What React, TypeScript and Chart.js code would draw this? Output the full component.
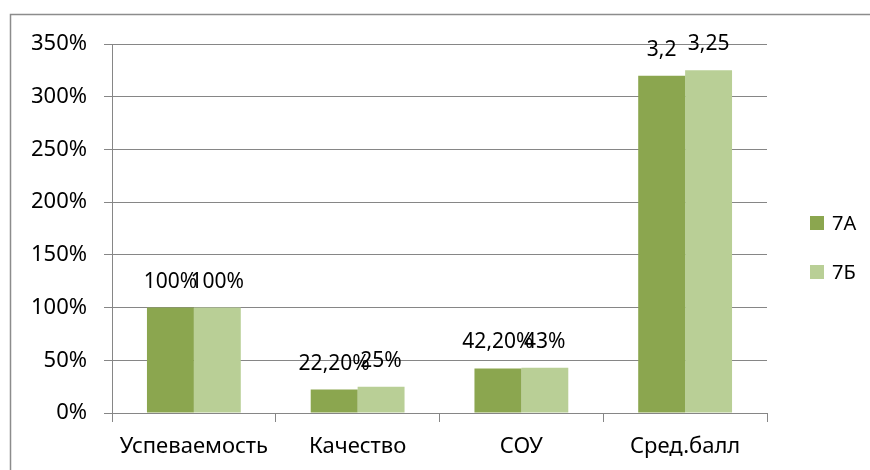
import React, { useEffect, useRef } from "react";
import { Chart, registerables } from "chart.js";

Chart.register(...registerables);

const categories = ["Успеваемость", "Качество", "СОУ", "Сред.балл"];
const seriesNames = ["7А", "7Б"];
const values7A = [1.0, 0.222, 0.422, 3.2];
const values7B = [1.0, 0.25, 0.43, 3.25];
const labels7A = ["100%", "22,20%", "42,20%", "3,2"];
const labels7B = ["100%", "25%", "43%", "3,25"];
const yMin = 0;
const yMax = 3.5;
const yStep = 0.5;

const COLOR_A = "#8BA64F";
const COLOR_B = "#B9CF96";
const GRID = "#868686";
const FONT = "'Noto Sans', sans-serif";

const framePlugin = {
  id: "frame",
  beforeDraw(chart: any) {
    const ctx = chart.ctx;
    ctx.save();
    ctx.fillStyle = "#ffffff";
    ctx.fillRect(0, 0, chart.width, chart.height);
    ctx.strokeStyle = "#8C8C8C";
    ctx.lineWidth = 1.5;
    ctx.strokeRect(10.5, 14.5, 1000, 1000);
    ctx.restore();
  },
};

const dataLabelPlugin = {
  id: "dataLabels",
  afterDatasetsDraw(chart: any) {
    const ctx = chart.ctx;
    const allLabels = [labels7A, labels7B];
    ctx.save();
    ctx.font = `21px ${FONT}`;
    ctx.fillStyle = "#000000";
    ctx.textAlign = "center";
    ctx.textBaseline = "middle";
    chart.data.datasets.forEach((ds: any, di: number) => {
      const meta = chart.getDatasetMeta(di);
      meta.data.forEach((bar: any, i: number) => {
        ctx.fillText(allLabels[di][i], bar.x, bar.y - 26);
      });
    });
    ctx.restore();
  },
};

const legendPlugin = {
  id: "customLegend",
  afterDraw(chart: any) {
    const ctx = chart.ctx;
    ctx.save();
    ctx.font = `20px ${FONT}`;
    ctx.textAlign = "left";
    ctx.textBaseline = "middle";
    chart.data.datasets.forEach((ds: any, di: number) => {
      const cy = 223 + di * 49;
      ctx.fillStyle = ds.backgroundColor;
      ctx.fillRect(810, cy - 7, 14, 14);
      ctx.fillStyle = "#000000";
      ctx.fillText(ds.label, 832, cy + 1);
    });
    ctx.restore();
  },
};

export default function App() {
  const ref = useRef<HTMLCanvasElement | null>(null);
  useEffect(() => {
    document.body.style.margin = "0";
    if (!ref.current) return;
    const chart = new Chart(ref.current, {
      type: "bar",
      data: {
        labels: categories,
        datasets: [
          { label: seriesNames[0], data: values7A, backgroundColor: COLOR_A },
          { label: seriesNames[1], data: values7B, backgroundColor: COLOR_B },
        ],
      },
      options: {
        animation: false,
        responsive: false,
        devicePixelRatio: 1,
        layout: { padding: { top: 44, right: 103, left: 0, bottom: 0 } },
        datasets: { bar: { categoryPercentage: 0.573, barPercentage: 1 } },
        plugins: { legend: { display: false }, tooltip: { enabled: false } },
        scales: {
          x: {
            afterFit: (s: any) => { s.height = 57; },
            grid: { offset: true, drawOnChartArea: false, drawTicks: true, tickLength: 9, color: GRID },
            border: { display: true, color: GRID, width: 1 },
            ticks: { color: "#000", font: { family: FONT, size: 22 }, padding: 12 },
          },
          y: {
            min: yMin,
            max: yMax,
            afterFit: (s: any) => { s.width = 112; },
            grid: { color: GRID, tickLength: 8, drawTicks: true },
            border: { display: true, color: GRID, width: 1 },
            ticks: {
              stepSize: yStep,
              color: "#000",
              padding: 17,
              font: { family: FONT, size: 22 },
              callback: (v: any) => Math.round(Number(v) * 100) + "%",
            },
          },
        },
      },
      plugins: [framePlugin, dataLabelPlugin, legendPlugin],
    });
    return () => chart.destroy();
  }, []);
  return <canvas ref={ref} width={870} height={470} style={{ display: "block" }} />;
}
